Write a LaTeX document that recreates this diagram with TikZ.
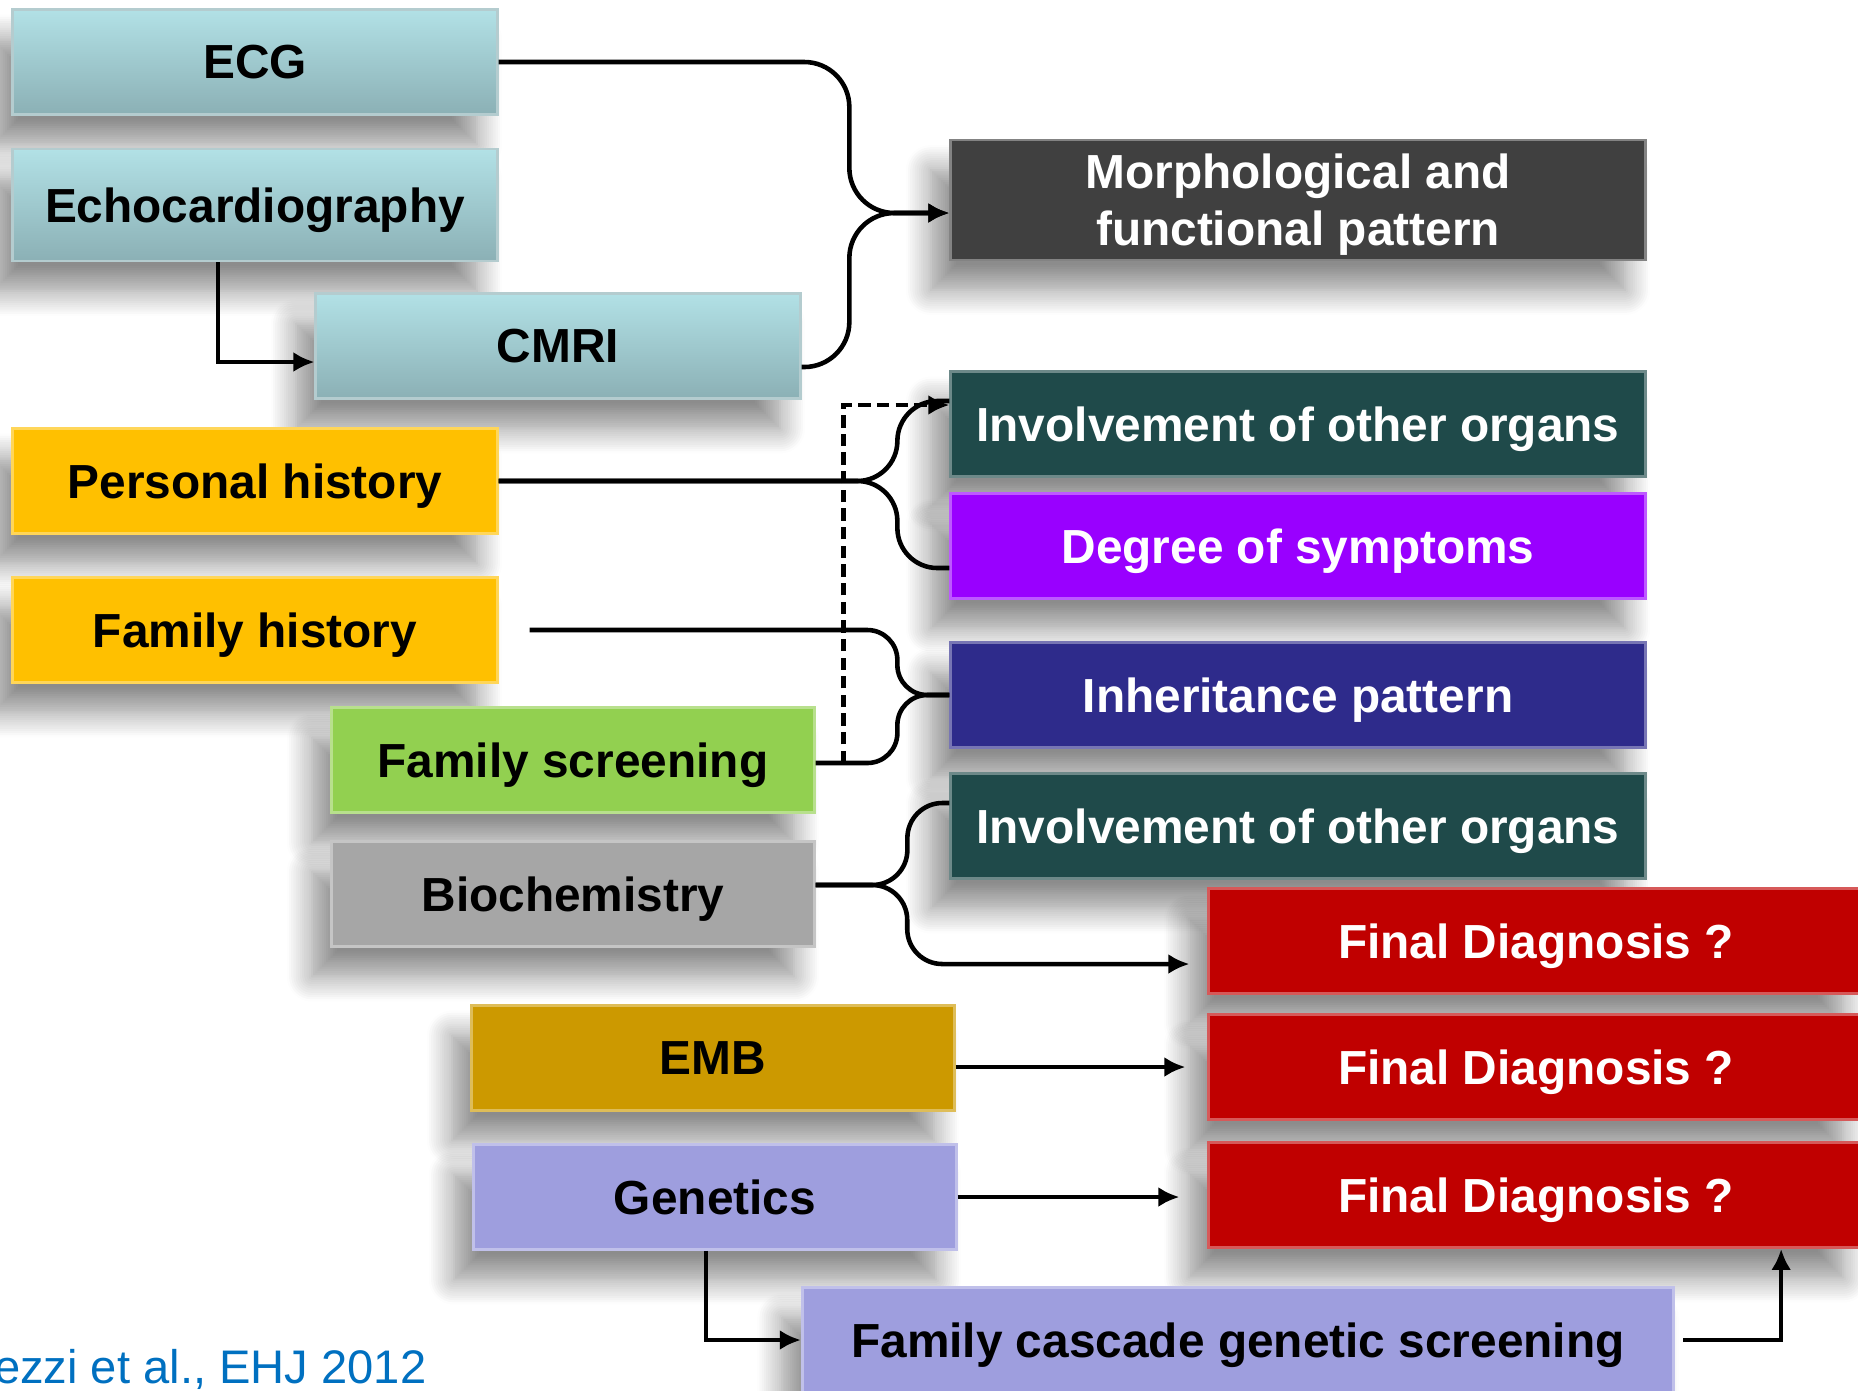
\documentclass[tikz,border=0pt]{standalone}
\usepackage{fontspec}
\setmainfont{Liberation Sans}
\usetikzlibrary{arrows.meta, shadows.blur}
\definecolor{scantop}{HTML}{B2E1E6}
\definecolor{scanbot}{HTML}{8BB0B5}
\definecolor{morphgray}{HTML}{404040}
\definecolor{histyellow}{HTML}{FFC000}
\definecolor{screengreen}{HTML}{92D050}
\definecolor{biogray}{HTML}{A6A6A6}
\definecolor{organteal}{HTML}{1F4A4A}
\definecolor{symppurple}{HTML}{9900FF}
\definecolor{inhblue}{HTML}{2E2B8B}
\definecolor{dxred}{HTML}{C00000}
\definecolor{embgold}{HTML}{CC9900}
\definecolor{genlilac}{HTML}{9E9EDE}
\definecolor{citeblue}{HTML}{0070C0}

\begin{document}
\begin{tikzpicture}[x=0.01cm, y=-0.01cm,
  tile/.style={fill=#1, draw=#1!65!white, line width=0.8pt, inner sep=0pt,
    minimum height=1.05cm, text depth=0pt, align=center,
    font=\fontsize{13.6}{16.2}\selectfont\bfseries,
    blur shadow={shadow xshift=-0.2cm, shadow yshift=-0.3cm,
      shadow blur radius=0.25cm, shadow blur steps=12, shadow opacity=45}},
  scan/.style={tile=scanbot, top color=scantop, bottom color=scanbot, minimum width=4.84cm},
  conn/.style={line width=1.3pt},
  arr/.style={-{Latex[length=0.21cm,width=0.2cm]}}]
  \useasboundingbox (0,0) rectangle (1858,1390);
  \node[scan] (ecg) at (255,62) {ECG};
  \node[scan, minimum height=1.12cm] (echo) at (255,205) {Echocardiography};
  \node[scan] (cmri) at (558,346) {CMRI};
  \node[tile=morphgray, text=white, minimum width=6.94cm, minimum height=1.2cm] (morph) at (1298,200) {Morphological and\\functional pattern};
  \node[tile=histyellow, minimum width=4.84cm] (ph) at (255,481) {Personal history};
  \node[tile=histyellow, minimum width=4.84cm] (fh) at (255,630) {Family history};
  \node[tile=screengreen, minimum width=4.82cm] (fs) at (573,760) {Family screening};
  \node[tile=biogray, minimum width=4.82cm] (bio) at (573,894) {Biochemistry};
  \node[tile=organteal, text=white, minimum width=6.94cm] (inv1) at (1298,424) {Involvement of other organs};
  \node[tile=symppurple, text=white, minimum width=6.94cm] (deg) at (1298,546) {Degree of symptoms};
  \node[tile=inhblue, text=white, minimum width=6.94cm] (inh) at (1298,695) {Inheritance pattern};
  \node[tile=organteal, text=white, minimum width=6.94cm] (inv2) at (1298,826) {Involvement of other organs};
  \node[tile=dxred, text=white, minimum width=6.54cm] (fd1) at (1536,941) {Final Diagnosis ?};
  \node[tile=dxred, text=white, minimum width=6.54cm] (fd2) at (1536,1067) {Final Diagnosis ?};
  \node[tile=dxred, text=white, minimum width=6.54cm] (fd3) at (1536,1195) {Final Diagnosis ?};
  \node[tile=embgold, minimum width=4.82cm] (emb) at (713,1058) {EMB};
  \node[tile=genlilac, minimum width=4.82cm] (gen) at (715,1197) {Genetics};
  \node[tile=genlilac, minimum width=8.71cm] (fcg) at (1238,1340) {Family cascade genetic screening};
  \node[font=\fontsize{13.4}{16}\selectfont, text=citeblue, anchor=base east, inner sep=0pt] (cite) at (427,1383) {ezzi et al., EHJ 2012};
  \coordinate (mj) at ([xshift=-1.0cm, yshift=-0.13cm]morph.west);
  \draw[conn, arr, rounded corners=0.45cm] (ecg.east) -| (mj) -- (mj -| morph.west);
  \draw[conn, arr, rounded corners=0.45cm] ([yshift=-0.21cm]cmri.east) -| (mj) -- (mj -| morph.west);
  \draw[conn, arr] ([xshift=-0.37cm]echo.south) |- ([yshift=-0.16cm]cmri.west);
  \draw[conn, rounded corners=0.4cm] (ph.east) -| ([xshift=-0.52cm, yshift=0.23cm]inv1.west) -- ([yshift=0.23cm]inv1.west);
  \draw[conn, rounded corners=0.4cm] (ph.east) -| ([xshift=-0.52cm, yshift=-0.22cm]deg.west) -- ([yshift=-0.22cm]deg.west);
  \draw[conn, arr, dash pattern=on 3.5pt off 1.8pt] ([xshift=0.28cm, yshift=-0.03cm]fs.east) |- ([yshift=0.19cm]inv1.west);
  \draw[conn, rounded corners=0.3cm] ([xshift=0.31cm]fh.east) -| ([xshift=-0.52cm]inh.west) -- (inh.west);
  \draw[conn, rounded corners=0.3cm] ([yshift=-0.03cm]fs.east) -| ([xshift=-0.52cm]inh.west) -- (inh.west);
  \draw[conn, rounded corners=0.35cm] ([yshift=0.09cm]bio.east) -| ([xshift=-0.42cm, yshift=0.23cm]inv2.west) -- ([yshift=0.23cm]inv2.west);
  \draw[conn, arr, rounded corners=0.35cm, shorten >=0.18cm] ([yshift=0.09cm]bio.east) -| ([xshift=-3.0cm, yshift=-0.23cm]fd1.west) -- ([yshift=-0.23cm]fd1.west);
  \draw[conn, arr, shorten >=0.22cm] (emb.east |- fd2.west) -- (fd2.west);
  \draw[conn, arr, shorten >=0.28cm] (gen.east) -- (gen.east -| fd3.west);
  \draw[conn, arr] ([xshift=-0.09cm]gen.south) |- (fcg.west);
  \draw[conn, arr, shorten <=0.08cm] (fcg.east) -| ([xshift=2.45cm]fd3.south);
\end{tikzpicture}
\end{document}
